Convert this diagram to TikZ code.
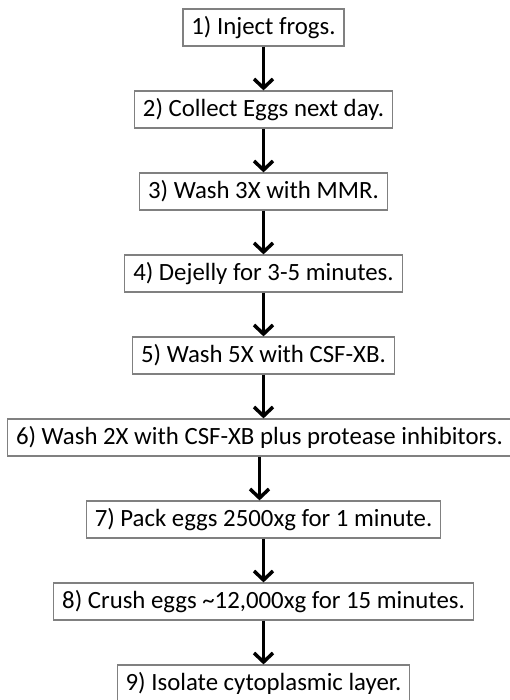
\documentclass[tikz,border=0pt]{standalone}
\usepackage{fontspec}
\setmainfont{Carlito}
\usetikzlibrary{positioning,arrows.meta}

\begin{document}
\begin{tikzpicture}[x=1pt,y=1pt,node distance=43.8pt]

		\tikzset{stepbox/.style={draw=black!50,line width=1.2pt,fill=white,minimum height=37pt,inner xsep=8.5pt,inner ysep=0pt,font=\fontsize{24.8}{28}\selectfont}}
		\tikzset{flowarrow/.style={-{Straight Barb[length=9pt,width=19pt]},line width=3.5pt}}

		\useasboundingbox (0,0) rectangle (510,-700);

		\node[stepbox] at (263.5,-27.5) (s1) {1) Inject frogs.};
		\node[stepbox, below=of s1] (s2) {2) Collect Eggs next day.};
		\node[stepbox, below=of s2] (s3) {3) Wash 3X with MMR.};
		\node[stepbox, below=of s3] (s4) {4) Dejelly for 3-5 minutes.};
		\node[stepbox, below=of s4] (s5) {5) Wash 5X with CSF-XB.};
		\node[stepbox, below=of s5, xshift=-4pt] (s6) {6) Wash 2X with CSF-XB plus protease inhibitors.};
		\node[stepbox, below=of s6, xshift=4pt] (s7) {7) Pack eggs 2500xg for 1 minute.};
		\node[stepbox, below=of s7] (s8) {8) Crush eggs \textasciitilde12,000xg for 15 minutes.};
		\node[stepbox, below=of s8] (s9) {9) Isolate cytoplasmic layer.};

		\foreach \i [count=\j from 2] in {1,...,8}
		{
			\draw[flowarrow] (s\i.south) -- (s\i.south |- s\j.north);
		}
\end{tikzpicture}
\end{document}
